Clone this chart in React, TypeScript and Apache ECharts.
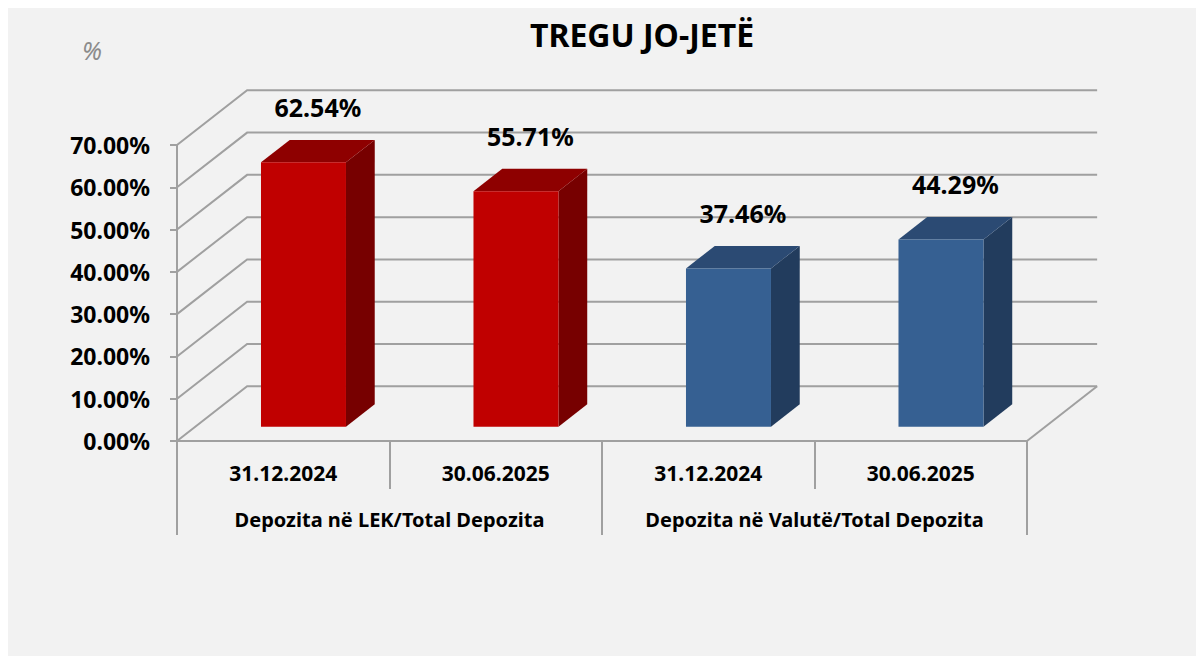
import React, { useEffect, useRef } from "react";
import * as echarts from "echarts";

const dateLabels = ["31.12.2024", "30.06.2025", "31.12.2024", "30.06.2025"];
const groupLabels = ["Depozita në LEK/Total Depozita", "Depozita në Valutë/Total Depozita"];
const shareValues = [62.54, 55.71, 37.46, 44.29];
const barGroup = [0, 0, 1, 1];
const yTicks = [0, 10, 20, 30, 40, 50, 60, 70];
const chartTitle = "TREGU JO-JETË";
const unitLabel = "%";

const FONT = "'Noto Sans', 'DejaVu Sans', sans-serif";
const GRID_COLOR = "#a0a0a0";
const faceColors = [
  { front: "#C00000", top: "#8E0000", side: "#770000" },
  { front: "#366092", top: "#2B4A73", side: "#223C5D" },
];

// depth geometry as fractions of the category band width
const DEPTH_X = 0.33;
const DEPTH_SLOPE = 0.78;
const BAR_FRONT = 0.26;
const BAR_DEPTH = 0.41;
const BAR_WIDTH = 0.4;

export default function App() {
  const ref = useRef<HTMLDivElement>(null);

  useEffect(() => {
    if (!ref.current) return;
    const chart = echarts.init(ref.current, null, { renderer: "svg" });

    const option: any = {
      animation: false,
      backgroundColor: "#f2f2f2",
      graphic: [
        {
          type: "text",
          x: 634,
          y: 26,
          style: {
            text: chartTitle,
            align: "center",
            verticalAlign: "middle",
            fontFamily: FONT,
            fontSize: 32,
            fontWeight: "bold",
            fill: "#000",
          },
        },
        {
          type: "text",
          x: 84,
          y: 42,
          style: {
            text: unitLabel,
            align: "center",
            verticalAlign: "middle",
            fontFamily: FONT,
            fontSize: 25,
            fontStyle: "italic",
            fill: "#8c8c8c",
          },
        },
      ],
      grid: { left: 169, top: 137, width: 850, height: 296, containLabel: false },
      xAxis: [
        {
          type: "category",
          data: dateLabels,
          position: "bottom",
          axisLine: { show: true, lineStyle: { color: GRID_COLOR, width: 2 } },
          axisTick: { show: true, length: 48, interval: 0, alignWithLabel: false, lineStyle: { color: GRID_COLOR, width: 2 } },
          axisLabel: {
            interval: 0,
            margin: 21,
            fontFamily: FONT,
            fontSize: 21,
            fontWeight: "bold",
            color: "#000",
          },
          splitLine: { show: false },
        },
        {
          type: "category",
          data: groupLabels,
          position: "bottom",
          offset: 0,
          axisLine: { show: false },
          axisTick: { show: true, length: 94, interval: 0, alignWithLabel: false, lineStyle: { color: GRID_COLOR, width: 2 } },
          axisLabel: {
            interval: 0,
            hideOverlap: false,
            margin: 68,
            fontFamily: FONT,
            fontSize: 20,
            fontWeight: "bold",
            color: "#000",
          },
          splitLine: { show: false },
        },
      ],
      yAxis: {
        type: "value",
        min: 0,
        max: 70,
        interval: 10,
        axisLine: { show: true, lineStyle: { color: GRID_COLOR, width: 2 } },
        axisTick: { show: true, length: 7, lineStyle: { color: GRID_COLOR, width: 2 } },
        axisLabel: {
          margin: 27,
          formatter: (v: number) => v.toFixed(2) + "%",
          fontFamily: FONT,
          fontSize: 23,
          fontWeight: "bold",
          color: "#000",
        },
        splitLine: { show: false },
      },
      series: [
        {
          type: "custom",
          name: "walls",
          xAxisIndex: 0,
          yAxisIndex: 0,
          z: 1,
          silent: true,
          encode: { x: 0, y: 1 },
          data: yTicks.map((v) => [0, v]),
          renderItem: (params: any, api: any) => {
            const cs = params.coordSys;
            const bw = api.size([1, 0])[0];
            const dx = bw * DEPTH_X;
            const dy = -dx * DEPTH_SLOPE;
            const v = api.value(1);
            const y = api.coord([0, v])[1];
            const x0 = cs.x;
            const x1 = cs.x + cs.width;
            const style = { stroke: GRID_COLOR, lineWidth: 2, fill: null };
            const children: any[] = [
              {
                type: "polyline",
                shape: { points: [[x0, y], [x0 + dx, y + dy], [x1 + dx, y + dy]] },
                style,
              },
            ];
            if (v === 0) {
              children.push({
                type: "line",
                shape: { x1: x1, y1: y, x2: x1 + dx, y2: y + dy },
                style,
              });
            }
            return { type: "group", children };
          },
        },
        {
          type: "custom",
          name: "bars",
          xAxisIndex: 0,
          yAxisIndex: 0,
          z: 3,
          encode: { x: 0, y: 1 },
          data: shareValues.map((v, i) => [i, v, barGroup[i]]),
          renderItem: (params: any, api: any) => {
            const idx = api.value(0);
            const val = api.value(1);
            const col = faceColors[api.value(2)];
            const bw = api.size([1, 0])[0];
            const D = bw * DEPTH_X;
            const Dy = -D * DEPTH_SLOPE;
            const top = api.coord([idx, val]);
            const base = api.coord([idx, 0]);
            const w = bw * BAR_WIDTH;
            const xl = top[0] - w / 2 + D * BAR_FRONT + 2;
            const yTop = top[1] + Dy * BAR_FRONT;
            const yBot = base[1] + Dy * BAR_FRONT;
            const dx2 = D * BAR_DEPTH;
            const dy2 = Dy * BAR_DEPTH;
            return {
              type: "group",
              children: [
                {
                  type: "polygon",
                  shape: {
                    points: [
                      [xl + w, yTop],
                      [xl + w + dx2, yTop + dy2],
                      [xl + w + dx2, yBot + dy2],
                      [xl + w, yBot],
                    ],
                  },
                  style: { fill: col.side },
                },
                {
                  type: "polygon",
                  shape: {
                    points: [
                      [xl, yTop],
                      [xl + w, yTop],
                      [xl + w + dx2, yTop + dy2],
                      [xl + dx2, yTop + dy2],
                    ],
                  },
                  style: { fill: col.top },
                },
                {
                  type: "rect",
                  shape: { x: xl, y: yTop, width: w, height: yBot - yTop },
                  style: { fill: col.front },
                },
                {
                  type: "text",
                  x: xl + w / 2 + dx2 / 2,
                  y: yTop + dy2 - 33,
                  style: {
                    text: val.toFixed(2) + "%",
                    align: "center",
                    verticalAlign: "middle",
                    fontFamily: FONT,
                    fontSize: 25,
                    fontWeight: "bold",
                    fill: "#000",
                  },
                },
              ],
            };
          },
        },
      ],
    };

    chart.setOption(option);
    return () => chart.dispose();
  }, []);

  return (
    <div
      ref={ref}
      style={{ position: "fixed", left: 8, top: 8, width: 1188, height: 648 }}
    />
  );
}
